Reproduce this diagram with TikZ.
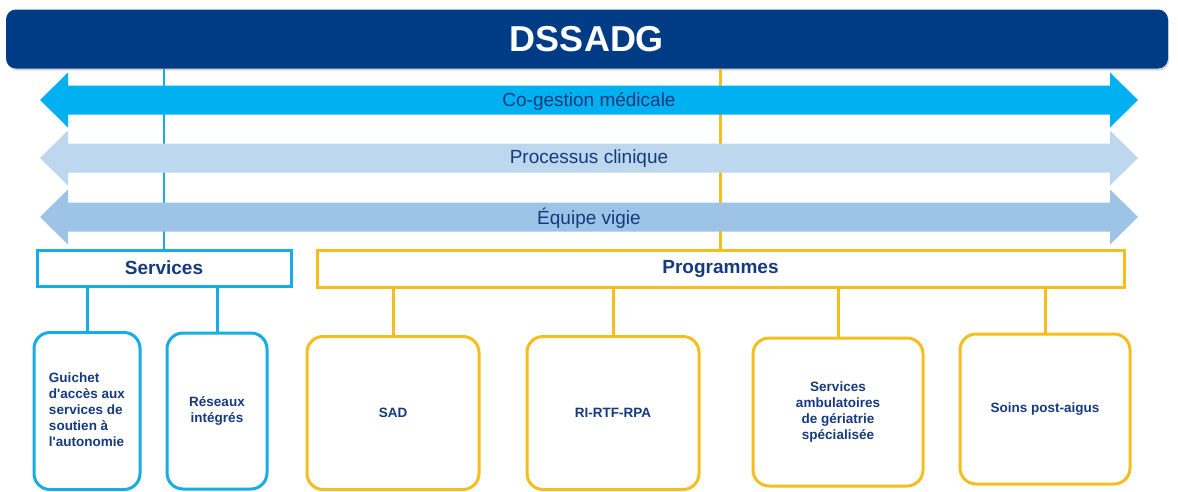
\documentclass[tikz,border=0pt]{standalone}
\usepackage{fontspec}
\setmainfont{Liberation Sans}
\usepackage{tikz}
\usetikzlibrary{shadows}
\definecolor{marine}{RGB}{0,60,133}
\definecolor{textebleu}{RGB}{22,58,125}
\definecolor{cogestion}{RGB}{0,176,240}
\definecolor{processus}{RGB}{189,215,238}
\definecolor{vigie}{RGB}{157,195,230}
\definecolor{bleuservice}{RGB}{24,172,228}
\definecolor{jauneprog}{RGB}{245,190,30}

\begin{document}
\begin{tikzpicture}[x=1pt, y=-1pt, textebleu,
    titre/.style={fill=marine, rounded corners=10pt, inner sep=0pt, text=white,
        font=\fontsize{36}{40}\selectfont\bfseries,
        drop shadow={opacity=0.3, shadow xshift=1pt, shadow yshift=-2pt}},
    groupe/.style={draw=#1, line width=3pt, fill=white, inner sep=0pt,
        font=\fontsize{19}{23}\selectfont\bfseries},
    unite/.style={draw=#1, line width=3pt, fill=white, rounded corners=16pt,
        inner sep=0pt, align=center, font=\fontsize{13.5}{16}\selectfont\bfseries},
    lien/.style={draw=#1, line width=3pt}]
  \useasboundingbox (0,0) rectangle (1178,491);

  % bandeau du haut
  \node[titre, minimum width=1162, minimum height=59] (dssadg) at (587,39) {DSSADG};

  % services et programmes
  \node[groupe=bleuservice, minimum width=254, minimum height=36] (services) at (164,268) {Services};
  \node[groupe=jauneprog, minimum width=807, minimum height=37] (programmes) at (720.5,268.5) {Programmes};
  \draw[lien=bleuservice, line width=2.5pt] (services.north) -- (services.north |- dssadg.south);
  \draw[lien=jauneprog, line width=2.5pt] (programmes.north) -- (programmes.north |- dssadg.south);

  % fleches transversales
  \foreach \y/\c/\t in {100/cogestion/Co-gestion médicale,158/processus/Processus clinique,217/vigie/Équipe vigie}{
    \fill[\c] (40,\y) -- (68,{\y-27.5}) -- (68,{\y-14.5}) -- (1110,{\y-14.5}) -- (1110,{\y-27.5})
      -- (1138,\y) -- (1110,{\y+27.5}) -- (1110,{\y+14.5}) -- (68,{\y+14.5}) -- (68,{\y+27.5}) -- cycle;
    \node[font=\fontsize{19}{23}\selectfont] (fleche\y) at (589,{\y+1}) {\t};
  }

  % unites
  \node[unite=bleuservice, minimum width=106, minimum height=157] (guichet) at (87,411)
    {\begin{tabular}{@{}l@{}}Guichet\\d\textquotesingle accès aux\\services de\\soutien à\\l\textquotesingle autonomie\end{tabular}};
  \node[unite=bleuservice, minimum width=100, minimum height=156] (reseaux) at (217,411) {Réseaux\\intégrés};
  \node[unite=jauneprog, minimum width=172, minimum height=153] (sad) at (393,413) {SAD};
  \node[unite=jauneprog, minimum width=172, minimum height=153] (ri) at (613,413) {RI-RTF-RPA};
  \node[unite=jauneprog, minimum width=170, minimum height=148] (ambu) at (838,412)
    {Services\\ambulatoires\\de gériatrie\\spécialisée};
  \node[unite=jauneprog, minimum width=170, minimum height=150] (postaigus) at (1045,409) {Soins post-aigus};

  \foreach \n in {guichet,reseaux}
    \draw[lien=bleuservice] (\n.north) -- (\n.north |- services.south);
  \foreach \n in {sad,ri,ambu,postaigus}
    \draw[lien=jauneprog] (\n.north) -- (\n.north |- programmes.south);
\end{tikzpicture}
\end{document}
